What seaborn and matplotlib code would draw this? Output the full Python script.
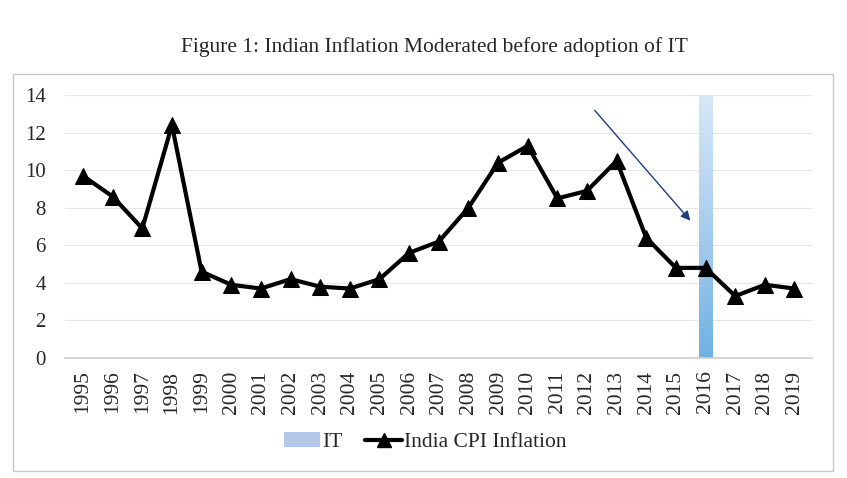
import numpy as np
import pandas as pd
import matplotlib
matplotlib.use("Agg")
import matplotlib.pyplot as plt
from matplotlib.colors import LinearSegmentedColormap
from matplotlib.patches import Rectangle
import seaborn as sns

# Data
years = list(range(1995, 2020))
cpi_inflation = [9.7, 8.6, 6.9, 12.4, 4.6, 3.9, 3.7, 4.2, 3.8, 3.7, 4.2, 5.6, 6.2,
                 8.0, 10.4, 11.3, 8.5, 8.9, 10.5, 6.4, 4.8, 4.8, 3.3, 3.9, 3.7]
it_year = 2016
it_height = 14

sns.set_theme(style="white")
plt.rcParams["font.family"] = ["Liberation Serif", "DejaVu Serif"]

df = pd.DataFrame({"year": [str(y) for y in years], "cpi": cpi_inflation})

fig = plt.figure(figsize=(8.47, 4.78), dpi=100)
ax = fig.add_axes([0.077, 0.251, 0.882, 0.55])

# frame around the chart area
fig.patches.append(Rectangle((0.0153, 0.0146), 0.968, 0.830, transform=fig.transFigure,
                             fill=False, edgecolor="#c8c8c8", linewidth=1))

# IT bar with vertical gradient
it_idx = years.index(it_year)
grad = np.linspace(0, 1, 256).reshape(-1, 1)
cmap = LinearSegmentedColormap.from_list("it", ["#6fb1e3", "#a9cdee", "#d6e8f8"])
ax.imshow(grad, aspect="auto", cmap=cmap, origin="lower",
          extent=[it_idx - 0.22, it_idx + 0.22, 0, it_height], zorder=1)

sns.lineplot(data=df, x="year", y="cpi", ax=ax, color="black", linewidth=3,
             marker="^", markersize=11, markeredgecolor="black", sort=False, zorder=3)

ax.annotate("", xy=(it_idx - 0.45, 7.2), xytext=(17.2, 13.3),
            arrowprops=dict(arrowstyle="-|>", color="#1f3d7a", lw=1, mutation_scale=14))

ax.set_xlim(-0.6, len(years) - 0.4)
ax.set_ylim(0, 14)
ax.set_yticks(range(0, 15, 2))
ax.yaxis.grid(True, color="#e6e6e6", linewidth=0.8)
ax.set_axisbelow(True)
for s in ["top", "right", "left"]:
    ax.spines[s].set_visible(False)
ax.spines["bottom"].set_color("#d0d0d0")
ax.tick_params(axis="x", labelrotation=90, labelsize=15.5, length=0, pad=9)
ax.tick_params(axis="y", labelsize=15, length=0, pad=14)
ax.set_xlabel("")
ax.set_ylabel("")

fig.text(0.513, 0.902, "Figure 1: Indian Inflation Moderated before adoption of IT",
         ha="center", va="center", fontsize=15.5)

# legend
handles = [Rectangle((0, 0), 1, 1, facecolor="#b3c7ea", edgecolor="none"),
           plt.Line2D([], [], color="black", linewidth=3, marker="^", markersize=10)]
fig.legend(handles, ["IT", "India CPI Inflation"], loc="center", bbox_to_anchor=(0.502, 0.075),
           ncol=2, frameon=False, fontsize=15.5, handlelength=1.7, handletextpad=0.1,
           columnspacing=1.05)

fig.savefig("out.png", dpi=100)
